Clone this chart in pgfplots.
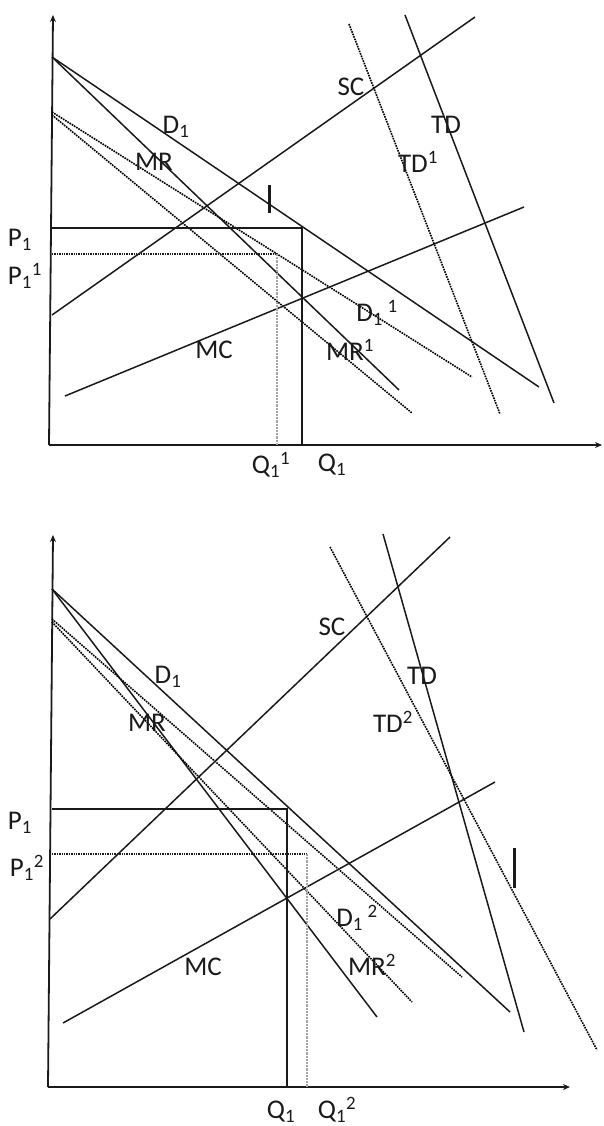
\documentclass[border=0pt]{standalone}
\usepackage{fontspec}
\setmainfont{Carlito}
\usepackage{pgfplots}
\pgfplotsset{compat=1.18}
\usetikzlibrary{arrows.meta}

\definecolor{ink}{HTML}{1A1A1A}
\definecolor{shade}{HTML}{7F7F7F}

\tikzset{
  curve/.style={ink, line width=1.5pt},
  shifted/.style={shade, line width=1.6pt, densely dotted},
  axisline/.style={ink, line width=1.8pt, -{Stealth[length=7pt,width=6pt]}},
  lab/.style={font=\fontsize{27}{31}\selectfont, text=ink, inner sep=0pt},
}

\begin{document}
\begin{tikzpicture}
\begin{axis}[
  width=604pt, height=1126pt, scale only axis,
  xmin=0, xmax=604, ymin=0, ymax=1126,
  y dir=reverse, hide axis, clip=false,
]
% frame of the page
\addplot[draw=none] coordinates {(0,0) (604,1126)};

% ---------------- upper diagram: TD shifts to TD^1 ----------------
\addplot[axisline] coordinates {(49,445) (53,15)};
\addplot[axisline] coordinates {(49,445) (602,445)};
% demand and marginal revenue
\addplot[curve] coordinates {(52,57) (539,387)};          % D1
\addplot[curve] coordinates {(52,57) (399,390)};          % MR
\addplot[shifted] coordinates {(52,112) (472,377)};       % D1^1
\addplot[shifted] coordinates {(52,115) (412,413)};       % MR^1
% supply, marginal cost, total demand
\addplot[curve] coordinates {(52,315) (475,17)};          % SC
\addplot[curve] coordinates {(65,396) (524,207)};         % MC
\addplot[curve] coordinates {(405,15) (554,403)};         % TD
\addplot[shifted] coordinates {(349,24) (500,414)};       % TD^1
% price and quantity
\addplot[ink, line width=1.5pt] coordinates {(52,228) (302,228) (302,445)};
\addplot[ink, line width=1.4pt, densely dotted] coordinates {(52,254) (277,254)};
\addplot[shade!70, line width=2.2pt, densely dotted] coordinates {(277,254) (277,445)};
\addplot[ink, line width=3pt] coordinates {(269,185) (269,213)};

\node[lab] at (axis cs:20,240) {P\textsubscript{1}};
\node[lab] at (axis cs:25,276) {P\textsubscript{1}\textsuperscript{1}};
\node[lab] at (axis cs:271,465) {Q\textsubscript{1}\textsuperscript{1}};
\node[lab] at (axis cs:332,465) {Q\textsubscript{1}};
\node[lab] at (axis cs:176,127) {D\textsubscript{1}};
\node[lab] at (axis cs:154,162) {MR};
\node[lab] at (axis cs:351,87) {SC};
\node[lab] at (axis cs:446,125) {TD};
\node[lab] at (axis cs:418,162) {TD\textsuperscript{1}};
\node[lab] at (axis cs:377,313) {D\textsubscript{1}\,\textsuperscript{1}};
\node[lab] at (axis cs:350,350) {MR\textsuperscript{1}};
\node[lab] at (axis cs:214,350) {MC};

% ---------------- lower diagram: TD shifts to TD^2 ----------------
\addplot[axisline] coordinates {(48,1087) (53,535)};
\addplot[axisline] coordinates {(48,1087) (570,1087)};
\addplot[curve] coordinates {(52,589) (510,1012)};        % D1
\addplot[curve] coordinates {(52,589) (377,1017)};        % MR
\addplot[shifted] coordinates {(52,619) (462,977)};       % D1^2
\addplot[shifted] coordinates {(52,622) (412,1002)};      % MR^2
\addplot[curve] coordinates {(50,919) (450,537)};         % SC
\addplot[curve] coordinates {(63,1023) (495,782)};        % MC
\addplot[curve] coordinates {(383,534) (524,1032)};       % TD
\addplot[shifted] coordinates {(330,547) (597,1050)};     % TD^2
\addplot[ink, line width=1.5pt] coordinates {(52,809) (287,809) (287,1087)};
\addplot[ink, line width=1.4pt, densely dotted] coordinates {(52,854) (307,854)};
\addplot[shade!70, line width=2.2pt, densely dotted] coordinates {(307,854) (307,1087)};
\addplot[ink, line width=3pt] coordinates {(514,848) (514,888)};

\node[lab] at (axis cs:20,823) {P\textsubscript{1}};
\node[lab] at (axis cs:27,868) {P\textsubscript{1}\textsuperscript{2}};
\node[lab] at (axis cs:281,1112) {Q\textsubscript{1}};
\node[lab] at (axis cs:337,1110) {Q\textsubscript{1}\textsuperscript{2}};
\node[lab] at (axis cs:168,677) {D\textsubscript{1}};
\node[lab] at (axis cs:147,723) {MR};
\node[lab] at (axis cs:332,627) {SC};
\node[lab] at (axis cs:422,676) {TD};
\node[lab] at (axis cs:393,722) {TD\textsuperscript{2}};
\node[lab] at (axis cs:357,918) {D\textsubscript{1}\,\textsuperscript{2}};
\node[lab] at (axis cs:372,965) {MR\textsuperscript{2}};
\node[lab] at (axis cs:203,967) {MC};
\end{axis}
\end{tikzpicture}
\end{document}
